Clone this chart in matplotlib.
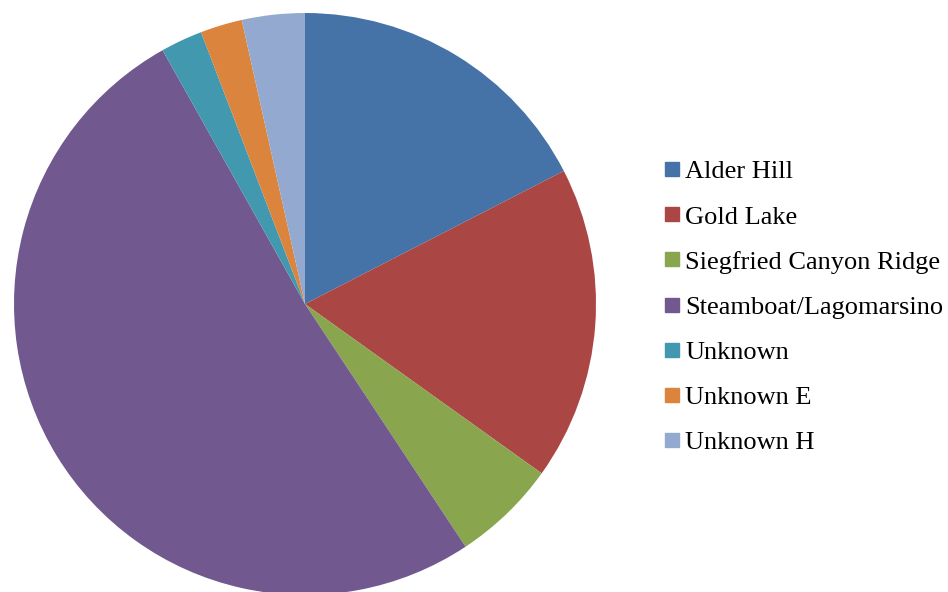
import matplotlib
matplotlib.use("Agg")
import matplotlib.pyplot as plt
from matplotlib.lines import Line2D

labels = ["Alder Hill", "Gold Lake", "Siegfried Canyon Ridge", "Steamboat/Lagomarsino",
          "Unknown", "Unknown E", "Unknown H"]
counts = [15, 15, 5, 44, 2, 2, 3]
colors = ["#4572A7", "#AA4643", "#89A54E", "#71588F", "#4198AF", "#DB843D", "#93A9CF"]

W, H = 948, 592
fig = plt.figure(figsize=(W / 100, H / 100), dpi=100)
cx, cy, r = 305, 304, 291
ax = fig.add_axes([(cx - r) / W, (H - cy - r) / H, 2 * r / W, 2 * r / H])
ax.pie(counts, colors=colors, startangle=90, counterclock=False, radius=1,
       wedgeprops=dict(linewidth=0))
ax.set_xlim(-1, 1)
ax.set_ylim(-1, 1)
ax.set_aspect("equal")
ax.axis("off")

handles = [Line2D([], [], marker="s", linestyle="none", markersize=10,
                  markerfacecolor=c, markeredgecolor=c) for c in colors]
fig.legend(handles, labels, loc="center left", bbox_to_anchor=(665 / W, 1 - 307 / H),
           frameon=False, prop={"family": "Liberation Serif", "size": 19},
           handlelength=0.53, handletextpad=0.23, labelspacing=0.82, borderpad=0, borderaxespad=0)

fig.savefig("out.png", dpi=100)
